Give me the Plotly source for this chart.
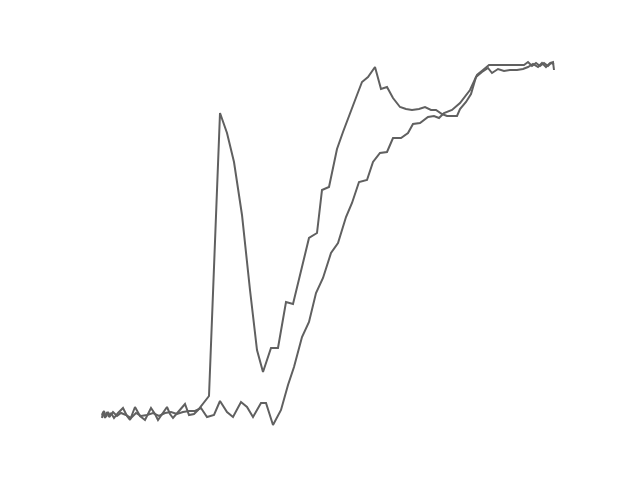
import plotly.graph_objects as go

# Series A (with early spike)
a_x = [0, 1, 3, 5, 7, 9, 12, 16, 21, 25, 28, 33, 38, 43, 49, 53, 56, 61, 65, 68, 71, 77, 83, 87, 92, 96, 100, 107,
       118, 125, 132, 140, 148, 155, 161, 169, 176, 184, 191, 199, 207, 215, 220, 227, 235, 241, 247, 255, 260, 266,
       273, 279, 285, 291, 298, 304, 310, 317, 323, 329, 334, 340, 345, 355, 358, 364, 369, 374, 380, 386, 390, 396,
       402, 408, 415, 421, 426, 431, 436, 440, 444, 448, 451, 452]
a_y = [7, 13, 7, 13, 8, 12, 7, 12, 17, 9, 5, 18, 9, 5, 17, 11, 5, 13, 18, 11, 7, 14, 21, 10, 11, 15, 20, 29,
       312, 292, 263, 210, 135, 75, 53, 77, 77, 123, 121, 155, 187, 192, 235, 238, 276, 293, 308, 330, 343, 348,
       358, 336, 338, 327, 318, 316, 315, 316, 318, 315, 315, 311, 309, 309, 316, 323, 331, 348, 353, 357, 352, 356,
       354, 355, 355, 356, 358, 361, 358, 362, 358, 362, 363, 355]

# Series B (steady rise)
b_x = [0, 2, 4, 6, 8, 11, 15, 19, 24, 29, 34, 39, 45, 51, 57, 63, 69, 75, 81, 87, 93, 99, 105, 112, 118, 125, 131,
       139, 145, 151, 159, 164, 171, 179, 186, 192, 200, 207, 214, 221, 229, 236, 244, 250, 257, 265, 271, 278, 285,
       291, 299, 306, 311, 318, 326, 332, 337, 342, 350, 358, 368, 375, 381, 387, 398, 410, 422, 426, 430, 434, 438,
       442, 446, 449, 452]
b_y = [10, 14, 8, 13, 9, 13, 9, 12, 10, 7, 12, 9, 10, 12, 9, 12, 13, 11, 13, 14, 14, 17, 8, 10, 24, 13, 8,
       23, 18, 8, 22, 22, 0, 15, 40, 58, 88, 103, 132, 147, 172, 182, 208, 222, 243, 245, 263, 272, 273,
       287, 287, 292, 301, 302, 308, 309, 307, 312, 315, 322, 335, 350, 355, 360, 360, 360, 360, 363, 359, 362, 359,
       362, 359, 362, 361]

line_color = "#606060"

fig = go.Figure()
fig.add_trace(go.Scatter(x=a_x, y=a_y, mode="lines", line=dict(color=line_color, width=2), showlegend=False))
fig.add_trace(go.Scatter(x=b_x, y=b_y, mode="lines", line=dict(color=line_color, width=2), showlegend=False))

fig.update_layout(
    width=640, height=480,
    margin=dict(l=0, r=0, t=0, b=0),
    paper_bgcolor="white", plot_bgcolor="white",
    xaxis=dict(range=[-102, 538], visible=False, fixedrange=True),
    yaxis=dict(range=[-55, 425], visible=False, fixedrange=True),
)
fig.write_html("out.html", config={"displayModeBar": False})
